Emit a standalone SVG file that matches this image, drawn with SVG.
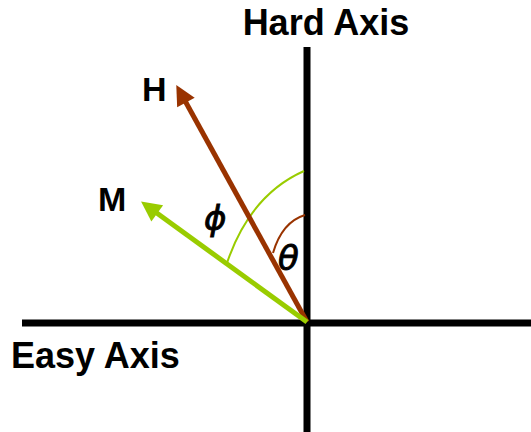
<svg xmlns="http://www.w3.org/2000/svg" width="531" height="432" viewBox="0 0 531 432">
<style>
.lbl{font-family:"Liberation Sans",Arial,sans-serif;font-weight:bold;fill:#000}
.greek{font-family:"DejaVu Sans","Liberation Sans",sans-serif;font-style:italic;fill:#000;stroke:#000;stroke-width:0.9}
</style>
<defs>
<marker id="ah" viewBox="0 0 10 10" refX="2" refY="5" markerWidth="5" markerHeight="4" orient="auto" markerUnits="strokeWidth"><path d="M0,0 L10,5 L0,10 z" fill="#993300"/></marker>
<marker id="am" viewBox="0 0 10 10" refX="2" refY="5" markerWidth="5" markerHeight="4" orient="auto" markerUnits="strokeWidth"><path d="M0,0 L10,5 L0,10 z" fill="#99cc00"/></marker>
</defs>
<rect width="531" height="432" fill="#fff"/>
<g id="axes">
<line x1="307" y1="47" x2="307" y2="432" stroke="#000" stroke-width="7"/>
<line x1="22" y1="323" x2="531" y2="323" stroke="#000" stroke-width="7"/>
</g>
<g id="connectors">
<path d="M304,171 Q250,195 227,263" fill="none" stroke="#99cc00" stroke-width="2"/>
<path d="M305,215 Q282,222 273,253" fill="none" stroke="#993300" stroke-width="2"/>
<line x1="307" y1="322" x2="184" y2="99" stroke="#993300" stroke-width="5" marker-end="url(#ah)"/>
<line x1="307" y1="322" x2="154" y2="211" stroke="#99cc00" stroke-width="5" marker-end="url(#am)"/>
</g>
<g id="labels">
<text class="lbl" x="326" y="35" font-size="36" text-anchor="middle">Hard Axis</text>
<text class="lbl" x="11" y="368" font-size="36">Easy Axis</text>
<text class="lbl" x="142" y="101" font-size="34">H</text>
<text class="lbl" x="98" y="211" font-size="34">M</text>
<text class="greek" x="204" y="230" font-size="34">ϕ</text>
<text class="greek" x="278" y="270" font-size="34">θ</text>
</g>
</svg>
